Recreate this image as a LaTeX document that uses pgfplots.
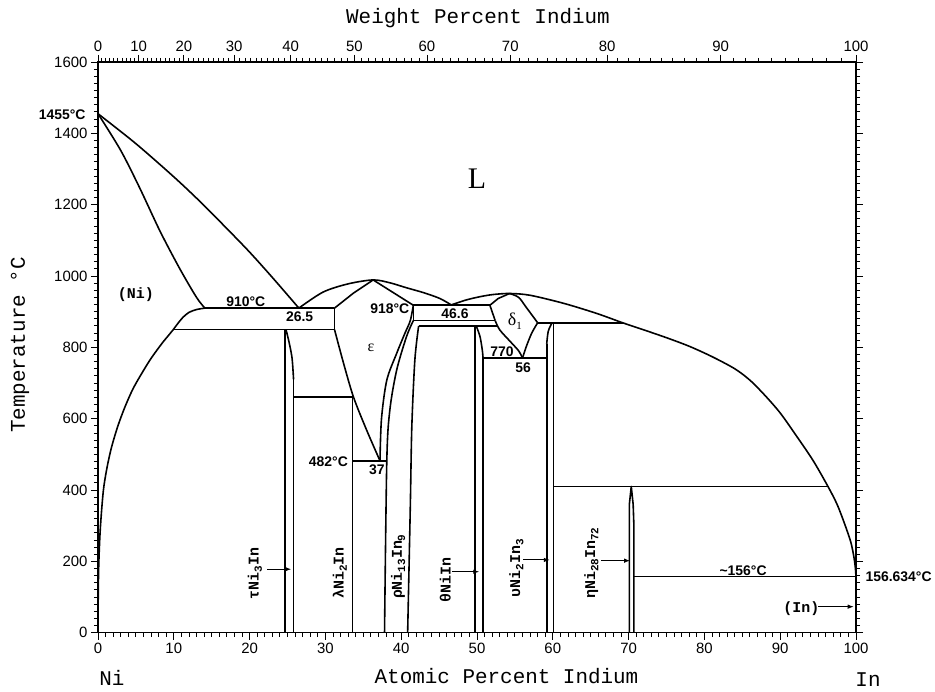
\documentclass[border=0pt]{standalone}
\usepackage{pgfplots}
\pgfplotsset{compat=1.18}
\usepackage{fontspec}
\setmainfont{Liberation Serif}
\setsansfont{Liberation Sans}
\setmonofont{Liberation Mono}
\usetikzlibrary{arrows.meta}
\newcommand{\lab}{\sffamily\bfseries\fontsize{14}{14}\selectfont}
\newcommand{\phl}{\ttfamily\bfseries\fontsize{15}{15}\selectfont}
\newcommand{\sub}[1]{\raisebox{-0.4ex}{\fontsize{11}{11}\selectfont #1}}
\begin{document}
\begin{tikzpicture}
\path[use as bounding box] (-98bp,-59.3bp) rectangle (837bp,632.7bp);
\begin{axis}[
  at={(0bp,0bp)}, anchor=south west,
  scale only axis, width=758bp, height=570.7bp,
  xmin=0, xmax=100, ymin=0, ymax=1600,
  xtick={0,10,...,100}, minor x tick num=9,
  ytick={0,200,...,1600}, minor y tick num=9,
  xtick pos=left, ytick pos=both, yticklabel pos=left,
  tick align=outside,
  major tick length=7bp, minor tick length=4bp,
  tick style={black, line width=0.9pt},
  axis line style={line width=1.2pt},
  ticklabel style={font=\sffamily\fontsize{15}{15}\selectfont},
  /pgf/number format/assume math mode=true,
  /pgf/number format/1000 sep={},
  cycle list={{black,solid,mark=none}},
  every axis plot post/.append style={black, solid, line width=1.6pt, mark=none, line join=round},
  clip=false,
]
% (Ni) liquidus and solidus
\addplot+[smooth] coordinates {(0,1455)(5,1371)(10,1278)(13.4,1210)(17,1133)(20,1067)(23,996)(26.5,910)};
\addplot+[smooth] coordinates {(0,1455)(3,1352)(5.5,1247)(8.2,1125)(10.8,1020)(13,940)(14.1,910)};
% (Ni) solvus
\addplot+[smooth] coordinates {(14.1,910)(13,906)(12,898)(11.2,884)(10.5,866)(9.9,849)(9.4,836)(8.4,810)(7,769)(5.8,728)(4.6,683)(3.5,630)(2.6,578)(1.8,521)(1.2,464)(0.7,397)(0.3,290)(0.1,190)(0.03,100)(0,0)};
% horizontals
\addplot coordinates {(14.1,910)(31.2,910)};
\addplot coordinates {(9.9,850)(31.2,850)};
\addplot coordinates {(31.2,910)(31.2,850)};
\addplot coordinates {(25.8,660)(33.7,660)};
\addplot coordinates {(33.6,482)(38.1,482)};
\addplot coordinates {(41.6,918)(51.7,918)};
\addplot coordinates {(41.6,918)(41.6,875)};
\addplot coordinates {(41.6,875)(52.4,875)};
\addplot coordinates {(42.3,860)(52.7,860)};
\addplot coordinates {(58,869)(69.2,869)};
\addplot coordinates {(50.8,770)(59.2,770)};
\addplot coordinates {(60.1,410)(96.3,410)};
\addplot coordinates {(70.7,157)(100,157)};
% liquidus 26.5 - eps - 46.6
\addplot+[smooth] coordinates {(26.5,910)(29.7,955)(33,978)(36.3,989)(38.5,981)(40.7,967)(43,953)(45.1,937)(46.6,919)};
% eps solidus
\addplot coordinates {(31.2,910)(33.7,952)(36.3,989)(41.6,918)};
% eps boundaries
\addplot+[smooth] coordinates {(31.2,850)(32.4,755)(33.7,661)(35.4,570)(37.2,482)};
\addplot+[smooth] coordinates {(37.2,482)(37.4,600)(38.1,708)(39.4,783)(40.5,840)(41.2,875)(41.6,918)};
% tau Ni3In
\addplot coordinates {(24.7,0)(24.7,850)};
\addplot+[smooth] coordinates {(24.8,850)(25.2,815)(25.6,770)(25.8,710)};
\addplot coordinates {(25.8,710)(25.8,0)};
% lambda Ni2In
\addplot coordinates {(33.6,0)(33.6,660)};
% rho Ni13In9
\addplot+[smooth] coordinates {(37.8,0)(38.1,482)(38.5,624)(39.4,736)(40.7,830)(41.6,875)};
\addplot+[smooth] coordinates {(40.85,0)(41.2,353)(41.4,577)(41.8,764)(42.3,860)};
% liquidus 46.6 - delta1 - In
\addplot+[smooth] coordinates {(46.6,919)(48.6,933)(50.4,942)(52.1,948)(54.3,951)(57,946)(61.5,923)(65.8,895)(69.2,869)(72,849)(75,827)(78,803)(81,774)(84,740)(86,708)(88,665)(90,616)(92,556)(94.3,484)(96.3,410)(97.5,360)(98.5,305)(99.3,255)(99.7,215)(99.9,185)(100,157)};
% delta1
\addplot coordinates {(51.7,918)(52.8,937)(54.3,951)};
\addplot+[smooth] coordinates {(54.3,951)(55.5,940)(56.5,912)(58,869)};
\addplot coordinates {(51.7,918)(52.4,875)};
\addplot+[smooth] coordinates {(52.4,875)(53.0,849)(54.4,816)(55.5,790)(56,770)};
\addplot+[smooth] coordinates {(58,869)(57.2,839)(56.5,802)(56,770)};
% theta NiIn
\addplot coordinates {(49.7,0)(49.7,860)};
\addplot+[smooth] coordinates {(49.9,860)(50.4,830)(50.7,792)(50.8,770)};
\addplot coordinates {(50.8,770)(50.8,0)};
% upsilon Ni2In3
\addplot+[smooth] coordinates {(59.9,869)(59.4,845)(59.2,810)};
\addplot coordinates {(59.2,810)(59.2,0)};
\addplot coordinates {(60.1,0)(60.1,869)};
% eta Ni28In72
\addplot coordinates {(70.1,0)(70.1,360)(70.35,410)(70.6,360)(70.7,300)(70.7,0)};

% labels
\node[font=\rmfamily\fontsize{30}{30}\selectfont] at (axis cs:50,1274) {L};
\node[font=\phl] at (axis cs:5.0,949) {(Ni)};
\node[font=\lab] at (axis cs:19.5,928) {910°C};
\node[font=\lab] at (axis cs:26.6,886) {26.5};
\node[font=\lab] at (axis cs:38.5,907) {918°C};
\node[font=\lab] at (axis cs:47.1,895) {46.6};
\node[font=\rmfamily\fontsize{18}{18}\selectfont] at (axis cs:55.0,872) {δ\raisebox{-0.5ex}{\fontsize{11}{11}\selectfont 1}};
\node[font=\rmfamily\fontsize{16}{16}\selectfont] at (axis cs:36.0,800) {ε};
\node[font=\lab] at (axis cs:53.3,788) {770};
\node[font=\lab] at (axis cs:56.1,744) {56};
\node[font=\lab] at (axis cs:30.4,479) {482°C};
\node[font=\lab] at (axis cs:36.8,458) {37};
\node[font=\lab] at (axis cs:85.1,174) {\textasciitilde156°C};
\node[font=\phl] at (axis cs:92.8,68) {(In)};
\draw[-{Latex[length=6bp]}, line width=0.9pt] (axis cs:95,73) -- (axis cs:99.7,73);
\node[font=\lab, anchor=east] at (axis cs:0,1451) [xshift=-9bp] {1455°C};
\node[font=\lab, anchor=west] at (axis cs:100,157) [xshift=6bp] {156.634°C};
% phase labels
\node[font=\phl, rotate=90] at (axis cs:20.7,166) {τNi\sub{3}In};
\draw[-{Latex[length=6bp]}, line width=0.9pt] (axis cs:22.3,178) -- (axis cs:25.5,178);
\node[font=\phl, rotate=90] at (axis cs:31.9,167) {λNi\sub{2}In};
\node[font=\phl, rotate=90] at (axis cs:39.6,185) {ρNi\sub{13}In\sub{9}};
\node[font=\phl, rotate=90] at (axis cs:45.8,148) {θNiIn};
\draw[-{Latex[length=6bp]}, line width=0.9pt] (axis cs:46.7,171) -- (axis cs:50.3,171);
\node[font=\phl, rotate=90] at (axis cs:55.2,181) {υNi\sub{2}In\sub{3}};
\draw[-{Latex[length=6bp]}, line width=0.9pt] (axis cs:56.1,204) -- (axis cs:59.6,204);
\node[font=\phl, rotate=90] at (axis cs:65.1,195) {ηNi\sub{28}In\sub{72}};
\draw[-{Latex[length=6bp]}, line width=0.9pt] (axis cs:66.4,202) -- (axis cs:70.2,202);
\end{axis}
% top weight percent axis
\begin{axis}[
  at={(0bp,0bp)}, anchor=south west,
  scale only axis, width=758bp, height=570.7bp,
  xmin=0, xmax=100, ymin=0, ymax=1600,
  axis x line*=top, axis y line=none,
  xtick={0,5.374,11.33,17.97,25.42,33.82,43.40,54.39,67.16,82.14,100},
  xticklabels={0,10,20,30,40,50,60,70,80,90,100},
  minor xtick={0.5137,1.0324,1.5563,2.0854,2.6198,3.1596,3.7048,4.2556,4.8121,5.9421,6.5160,7.0959,7.6818,8.2740,8.8724,9.4771,10.0884,10.7063,11.9621,12.6004,13.2458,13.8981,14.5580,15.2250,15.8997,16.5819,17.2719,18.6758,19.3900,20.1125,20.8434,21.5831,22.3314,23.0887,23.8551,24.6307,26.2105,27.0149,27.8293,28.6540,29.4888,30.3342,31.1903,32.0575,32.9357,34.7265,35.6394,36.5645,37.5018,38.4517,39.4138,40.3900,41.3791,42.3817,44.4288,45.4739,46.5338,47.6086,48.6990,49.8051,50.9272,52.0658,53.2212,55.5837,56.7920,58.0185,59.2636,60.5282,61.8123,63.1165,64.4414,65.7872,68.5446,69.9571,71.3928,72.8518,74.3359,75.8450,77.3795,78.9401,80.5286,83.7880,85.4613,87.1650,88.8987,90.6646,92.4627,94.2941,96.1609,98.0621},
  tick align=outside,
  major tick length=7bp, minor tick length=4bp,
  tick style={black, line width=0.9pt},
  axis line style={line width=1.2pt},
  ticklabel style={font=\sffamily\fontsize{15}{15}\selectfont},
]
\addplot[draw=none] coordinates {(0,0)(100,1600)};
\end{axis}
\node[font=\ttfamily\fontsize{21}{21}\selectfont] at (408.5bp,-43.3bp) {Atomic Percent Indium};
\node[font=\ttfamily\fontsize{21}{21}\selectfont] at (14bp,-45.3bp) {Ni};
\node[font=\ttfamily\fontsize{21}{21}\selectfont] at (770bp,-47.3bp) {In};
\node[font=\ttfamily\fontsize{21}{21}\selectfont] at (380bp,614.7bp) {Weight Percent Indium};
\node[font=\ttfamily\fontsize{21}{21}\selectfont, rotate=90] at (-78bp,287.7bp) {Temperature °C};
\end{tikzpicture}
\end{document}
